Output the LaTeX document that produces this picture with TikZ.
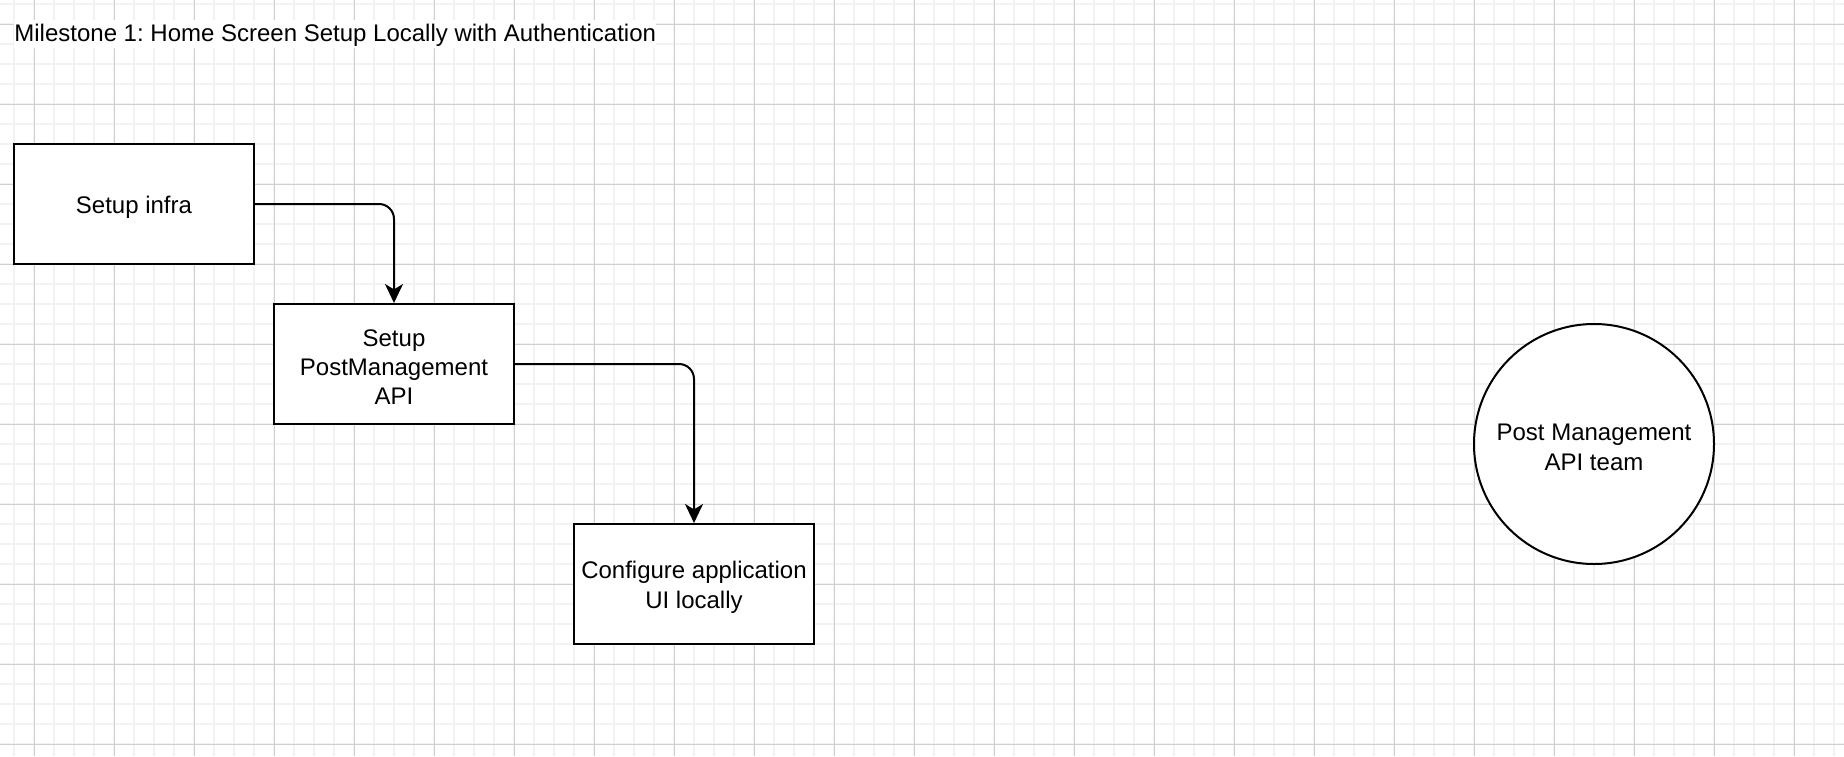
\documentclass[tikz,border=0pt]{standalone}
\usepackage{fontspec}
\setmainfont{Liberation Sans}
\usetikzlibrary{arrows.meta}
\definecolor{gridmajor}{HTML}{D0D0D0}
\definecolor{gridminor}{HTML}{F2F2F2}
\frenchspacing
\begin{document}
\begin{tikzpicture}[x=0.5pt,y=-0.5pt,
  lbl/.style={font=\fontsize{12pt}{14.7pt}\selectfont},
  txt/.style={lbl, align=center, inner sep=0pt, yshift=-1.6pt},
  box/.style={draw=black, line width=1pt, fill=white, minimum width=120pt, minimum height=60pt, inner sep=0pt},
  team/.style={circle, draw=black, line width=1pt, fill=white, minimum size=120pt, inner sep=0pt},
  conn/.style={draw=black, line width=1pt, rounded corners=7.5pt, -{Stealth[length=9.5pt,width=9pt,inset=2.7pt]}},
  minorline/.style={draw=gridminor, line width=1pt},
  majorline/.style={draw=gridmajor, line width=0.5pt}]
% background and bounding box
\fill[white] (0,0) rectangle (1844,756);
\useasboundingbox (0,0) rectangle (1844,756);
% grid
\foreach \x in {14,34,...,1834} \draw[minorline] (\x,0) -- (\x,756);
\foreach \y in {4,24,...,744} \draw[minorline] (0,\y) -- (1844,\y);
\foreach \x in {34,114,...,1794} \draw[majorline] (\x,0) -- (\x,756);
\foreach \y in {24,104,...,744} \draw[majorline] (0,\y) -- (1844,\y);
% title
\node[lbl, anchor=base west, fill=white, inner xsep=0pt, inner ysep=0pt, text height=10.5pt, text depth=3.5pt] (title) at (14,41) {Milestone 1: Home Screen Setup Locally with Authentication};
% nodes
\node[box] (b1) at (134,204) {};
\node[txt] (b1t) at (b1.center) {Setup infra};
\node[box] (b2) at (394,364) {};
\node[txt] (b2t) at (b2.center) {Setup\\PostManagement\\API};
\node[box] (b3) at (694,584) {};
\node[txt] (b3t) at (b3.center) {Configure application\\UI locally};
\node[team] (t) at (1594,444) {};
\node[txt] (tt) at (t.center) {Post Management\\API team};
% connectors
\draw[conn] (b1.east) -| (b2.north);
\draw[conn] (b2.east) -| (b3.north);
\end{tikzpicture}
\end{document}
